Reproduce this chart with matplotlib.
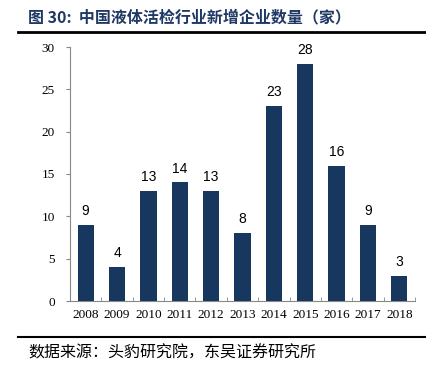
import matplotlib
matplotlib.use("Agg")
import matplotlib.pyplot as plt
from matplotlib.lines import Line2D

years = ["2008", "2009", "2010", "2011", "2012", "2013", "2014", "2015", "2016", "2017", "2018"]
counts = [9, 4, 13, 14, 13, 8, 23, 28, 16, 9, 3]
yticks = [0, 5, 10, 15, 20, 25, 30]

title = "图 30:  中国液体活检行业新增企业数量（家）"
source = "数据来源：头豹研究院，东吴证券研究所"

fig = plt.figure(figsize=(4.27, 3.70), dpi=100)
ax = fig.add_axes([70/427, 1-301/370, 345/427, 254/370])

x = range(len(years))
bars = ax.bar(x, counts, width=0.52, color="#17375E", zorder=3)
for xi, v in zip(x, counts):
    ax.text(xi, v + 0.8, str(v), ha="center", va="bottom", fontsize=10,
            family="Liberation Sans", color="black")

ax.set_xlim(-0.5, len(years) - 0.5)
ax.set_ylim(0, 30)
ax.set_yticks(yticks)
ax.set_yticklabels([str(t) for t in yticks], family="Liberation Serif", fontsize=9.5)
ax.set_xticks(list(x))
ax.set_xticklabels(years, family="Liberation Serif", fontsize=9.5)
ax.tick_params(axis="x", length=0, pad=6)
ax.set_xticks([i + 0.5 for i in range(-1, len(years))], minor=True)
ax.tick_params(axis="x", which="minor", length=3, direction="in", color="#888888")
ax.tick_params(axis="y", length=3, direction="out", color="#888888", pad=8)
for s in ["top", "right"]:
    ax.spines[s].set_visible(False)
ax.spines["left"].set_color("#888888")
ax.spines["bottom"].set_color("#888888")
ax.spines["left"].set_linewidth(0.8)
ax.spines["bottom"].set_linewidth(0.8)

fig.text(28/427, 1-17/370, title, family=["Noto Sans CJK SC", "DejaVu Sans"],
         fontsize=11.5, fontweight="bold", color="#1F3864", va="center", ha="left")
fig.add_artist(Line2D([18/427, 1.0], [1-32/370, 1-32/370], color="black", lw=2,
                      transform=fig.transFigure))
fig.add_artist(Line2D([18/427, 1.0], [1-337/370, 1-337/370], color="black", lw=1.5,
                      transform=fig.transFigure))
fig.text(28/427, 1-353/370, source, family=["Noto Sans CJK SC", "DejaVu Sans"],
         fontsize=11.5, color="black", va="center", ha="left")

fig.savefig("out.png", dpi=100)
